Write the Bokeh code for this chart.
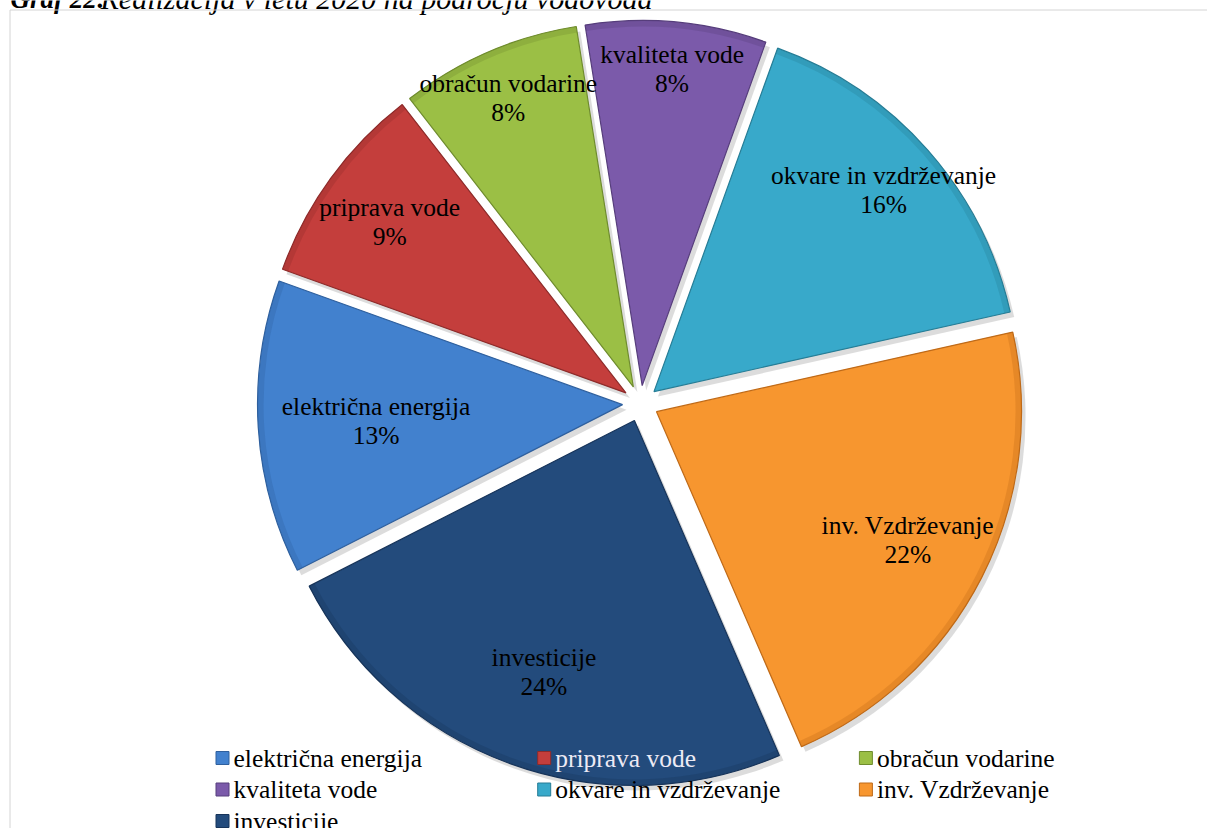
import numpy as np
from bokeh.plotting import figure
from bokeh.models import ColumnDataSource, Range1d
from bokeh.core.properties import value
from bokeh.embed import file_html
from bokeh.resources import INLINE

# ---- data ----
title_bold = "Graf 22:"
title_rest = "Realizacija v letu 2020 na področju vodovoda"
categories = ["električna energija", "priprava vode", "obračun vodarine",
              "kvaliteta vode", "okvare in vzdrževanje", "inv. Vzdrževanje",
              "investicije"]
shares = [13, 9, 8, 8, 16, 22, 24]
colors = ["#4281CE", "#C43E3C", "#9BBF45", "#7B5AAA", "#38A9CA", "#F7962F", "#234B7C"]
edges = ["#2F609E", "#8E2B2A", "#6F8C2E", "#573E7C", "#267D96", "#BF6A18", "#17345A"]
legend_text_colors = ["black", "#ECEAF4", "black", "black", "black", "black", "black"]

# ---- layout constants (pixels) ----
W, H = 1207, 828
CX, CY = 640, 425          # pie centre
R = 365                    # radius
EXPL = 18                  # explosion offset
START = 243.0              # first slice start, degrees clockwise from 12 o'clock
LABEL_DIST = [265, 310, 333, 336, 324, 300, 285]
FONT = value("Liberation Serif")

total = float(sum(shares))
cum = np.concatenate([[0.0], np.cumsum(shares)]) / total * 360.0
th_s = START + cum[:-1]
th_e = START + cum[1:]
th_m = (th_s + th_e) / 2.0
mid_rad = np.deg2rad(90.0 - th_m)

src = ColumnDataSource(dict(
    x=CX + EXPL * np.cos(mid_rad),
    y=CY + EXPL * np.sin(mid_rad),
    start=np.deg2rad(90.0 - th_e),
    end=np.deg2rad(90.0 - th_s),
    color=colors,
    edge=edges,
    lx=CX + np.array(LABEL_DIST) * np.cos(mid_rad),
    ly=CY + np.array(LABEL_DIST) * np.sin(mid_rad),
    name=categories,
    pct=[f"{round(s / total * 100)}%" for s in shares],
))

p = figure(width=W, height=H, output_backend="svg", toolbar_location=None,
           x_range=Range1d(0, W), y_range=Range1d(0, H),
           min_border=0, background_fill_color="white",
           border_fill_color="white")
p.axis.visible = False
p.grid.visible = False
p.outline_line_color = None

# caption above the chart (cut at the top edge, as in the document)
p.text(x=[10], y=[H + 2], text=[title_bold], text_font=FONT,
       text_font_style="bold italic", text_font_size="27px",
       text_baseline="alphabetic", text_color="black")
p.text(x=[100], y=[H + 2], text=[title_rest], text_font=FONT,
       text_font_style="italic", text_font_size="30px",
       text_baseline="alphabetic", text_color="black")

# chart border
p.line(x=[9.5, 9.5, W], y=[0, H - 9.5, H - 9.5], line_color="#D4D4D4", line_width=1)

# shadow
shadow = ColumnDataSource(dict(x=np.array(src.data["x"]) + 4,
                               y=np.array(src.data["y"]) - 5,
                               start=src.data["start"], end=src.data["end"]))
p.wedge(x="x", y="y", radius=R, start_angle="start", end_angle="end",
        source=shadow, fill_color="#808080", fill_alpha=0.28, line_color=None)

# slices
p.wedge(x="x", y="y", radius=R, start_angle="start", end_angle="end",
        source=src, fill_color="color", line_color="edge", line_width=1.2)
# subtle rim bevel
p.annular_wedge(x="x", y="y", inner_radius=R - 6, outer_radius=R,
                start_angle="start", end_angle="end", source=src,
                fill_color="edge", fill_alpha=0.3, line_color=None)

# labels
p.text(x="lx", y="ly", text="name", source=src, text_align="center",
       text_baseline="middle", y_offset=-14, text_font=FONT,
       text_font_size="25.5px", text_color="black")
p.text(x="lx", y="ly", text="pct", source=src, text_align="center",
       text_baseline="middle", y_offset=15, text_font=FONT,
       text_font_size="25.5px", text_color="black")

# legend (custom, 3 columns)
cols = [i % 3 for i in range(len(categories))]
rows = [i // 3 for i in range(len(categories))]
leg = ColumnDataSource(dict(
    mx=[222 + c * 321.7 for c in cols],
    my=[70.5 - r * 31.5 for r in rows],
    tx=[233 + c * 321.7 for c in cols],
    color=colors, edge=edges, name=categories, tc=legend_text_colors,
))
p.scatter(x="mx", y="my", source=leg, marker="square", size=13,
          fill_color="color", line_color="edge", line_width=1)
p.text(x="tx", y="my", text="name", source=leg, text_align="left",
       text_baseline="middle", text_font=FONT, text_font_size="25.5px",
       text_color="tc")

open("out.html", "w").write(file_html(p, INLINE))
